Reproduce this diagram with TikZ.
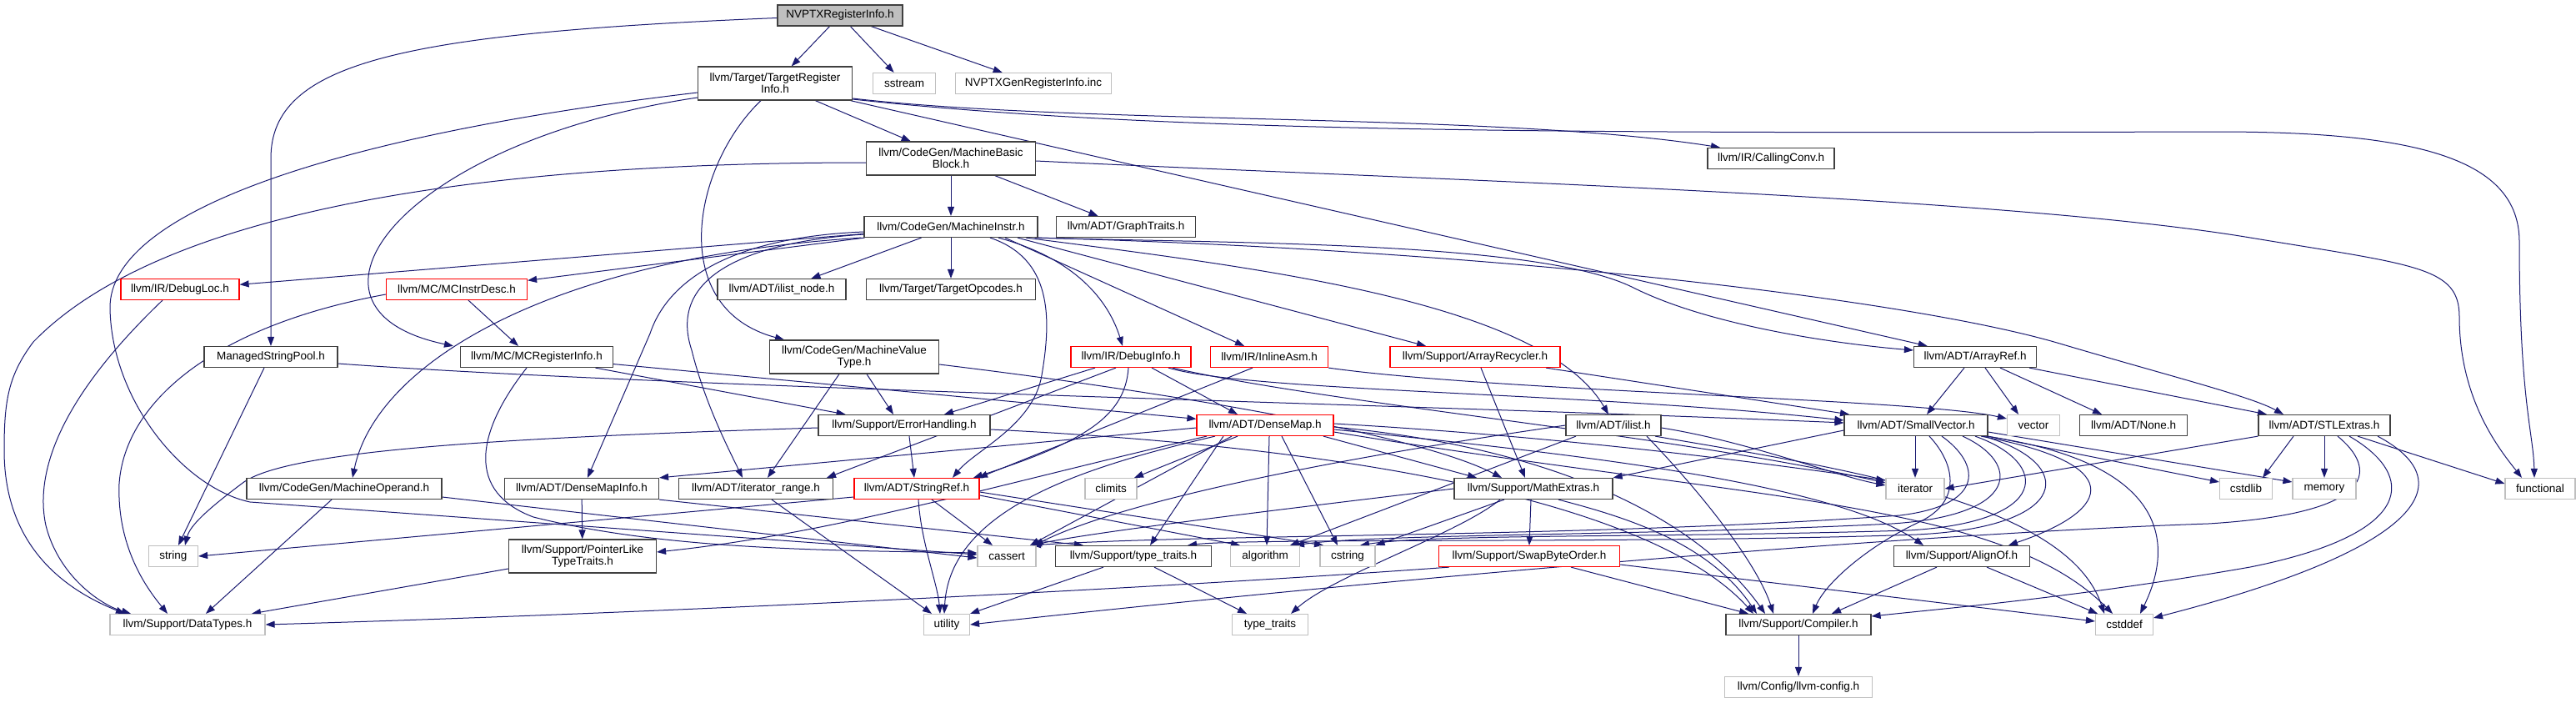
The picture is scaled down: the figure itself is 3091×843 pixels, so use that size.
\documentclass[tikz,border=0pt]{standalone}
\usepackage{fontspec}
\setmainfont{Liberation Sans}
\usetikzlibrary{arrows.meta}
\definecolor{edgec}{HTML}{191970}
\definecolor{boxgray}{HTML}{BFBFBF}
\definecolor{boxdark}{HTML}{404040}
\pgfdeclarelayer{bg}
\pgfsetlayers{bg,main}
\tikzset{
  base/.style={rectangle, inner sep=0pt, font=\fontsize{13.5}{14}\selectfont, align=center, line width=1.2pt, minimum height=25pt, fill=white},
  nb/.style={base, draw=boxdark},
  ng/.style={base, draw=boxgray},
  nr/.style={base, draw=red},
  nm/.style={base, draw=boxdark, fill=boxgray},
  tall/.style={minimum height=40pt},
  e/.style={draw=edgec, line width=1pt, -{Triangle[length=11pt,width=8pt]}},
}
\begin{document}
\begin{tikzpicture}[x=1pt,y=-1pt]
\useasboundingbox (0,0) rectangle (3091,843);
% nodes
\node[nm, minimum width=150pt] (nvptx) at (1008,18.5) {NVPTXRegisterInfo.h};
\node[nb, tall, minimum width=185pt] (tri) at (930,100) {llvm/Target/TargetRegister\\Info.h};
\node[ng, minimum width=75pt] (sstream) at (1085,100) {sstream};
\node[ng, minimum width=187pt] (geninc) at (1240,100) {NVPTXGenRegisterInfo.inc};
\node[nb, tall, minimum width=203pt] (mbb) at (1141,190) {llvm/CodeGen/MachineBasic\\Block.h};
\node[nb, minimum width=152pt] (callconv) at (2125,190) {llvm/IR/CallingConv.h};
\node[nb, minimum width=208pt] (mi) at (1141,272) {llvm/CodeGen/MachineInstr.h};
\node[nb, minimum width=167pt] (graph) at (1351,272) {llvm/ADT/GraphTraits.h};
\node[nr, minimum width=142pt] (debugloc) at (216,347) {llvm/IR/DebugLoc.h};
\node[nr, minimum width=169pt] (mcid) at (548,347) {llvm/MC/MCInstrDesc.h};
\node[nb, minimum width=154pt] (ilnode) at (938,347) {llvm/ADT/ilist\_node.h};
\node[nb, minimum width=203pt] (tgtop) at (1141,347) {llvm/Target/TargetOpcodes.h};
\node[nb, minimum width=160pt] (msp) at (325,428) {ManagedStringPool.h};
\node[nb, minimum width=183pt] (mcri) at (644,428) {llvm/MC/MCRegisterInfo.h};
\node[nb, tall, minimum width=203pt] (mvt) at (1025,428) {llvm/CodeGen/MachineValue\\Type.h};
\node[nr, minimum width=144pt] (dinfo) at (1357,428) {llvm/IR/DebugInfo.h};
\node[nr, minimum width=141pt] (iasm) at (1523,428) {llvm/IR/InlineAsm.h};
\node[nr, minimum width=204pt] (arec) at (1770,428) {llvm/Support/ArrayRecycler.h};
\node[nb, minimum width=147pt] (aref) at (2370,428) {llvm/ADT/ArrayRef.h};
\node[nb, minimum width=206pt] (errh) at (1085,510) {llvm/Support/ErrorHandling.h};
\node[nr, minimum width=164pt] (dmap) at (1518,510) {llvm/ADT/DenseMap.h};
\node[nb, minimum width=114pt] (ilist) at (1936,510) {llvm/ADT/ilist.h};
\node[nb, minimum width=172pt] (svec) at (2299,510) {llvm/ADT/SmallVector.h};
\node[ng, minimum width=63pt] (vector) at (2440,510) {vector};
\node[nb, minimum width=129pt] (none) at (2560,510) {llvm/ADT/None.h};
\node[nb, minimum width=158pt] (stl) at (2789,510) {llvm/ADT/STLExtras.h};
\node[nb, minimum width=234pt] (mop) at (413,586) {llvm/CodeGen/MachineOperand.h};
\node[nb, minimum width=185pt] (dmi) at (698,586) {llvm/ADT/DenseMapInfo.h};
\node[nb, minimum width=185pt] (itr) at (907,586) {llvm/ADT/iterator\_range.h};
\node[nr, minimum width=150pt] (sref) at (1100,586) {llvm/ADT/StringRef.h};
\node[ng, minimum width=62pt] (climits) at (1333,586) {climits};
\node[nb, minimum width=190pt] (mext) at (1840,586) {llvm/Support/MathExtras.h};
\node[ng, minimum width=70pt] (iter) at (2298,586) {iterator};
\node[ng, minimum width=63pt] (cstdlib) at (2695,586) {cstdlib};
\node[ng, minimum width=76pt] (memory) at (2789,586) {memory};
\node[ng, minimum width=84pt] (functional) at (3048,586) {functional};
\node[ng, minimum width=59pt] (string) at (208,667) {string};
\node[nb, tall, minimum width=177pt] (pltt) at (699,667) {llvm/Support/PointerLike\\TypeTraits.h};
\node[ng, minimum width=70pt] (cassert) at (1208,667) {cassert};
\node[nb, minimum width=187pt] (ttraitsh) at (1360,667) {llvm/Support/type\_traits.h};
\node[ng, minimum width=83pt] (algorithm) at (1518,667) {algorithm};
\node[ng, minimum width=66pt] (cstring) at (1617,667) {cstring};
\node[nr, minimum width=217pt] (sbo) at (1835,667) {llvm/Support/SwapByteOrder.h};
\node[nb, minimum width=163pt] (alignof) at (2354,667) {llvm/Support/AlignOf.h};
\node[ng, minimum width=186pt] (datatypes) at (225,749) {llvm/Support/DataTypes.h};
\node[ng, minimum width=55pt] (utility) at (1136,749) {utility};
\node[ng, minimum width=91pt] (ttraits) at (1524,749) {type\_traits};
\node[nb, minimum width=174pt] (compiler) at (2158,749) {llvm/Support/Compiler.h};
\node[ng, minimum width=69pt] (cstddef) at (2549,749) {cstddef};
\node[ng, minimum width=177pt] (llvmconfig) at (2158,824) {llvm/Config/llvm-config.h};

\begin{pgfonlayer}{bg}
\fill[white] (0,0) rectangle (3091,843);
% NVPTXRegisterInfo.h
\draw[e] (nvptx) -- (tri);
\draw[e] (nvptx) -- (sstream);
\draw[e] (nvptx) -- (geninc);
\draw[e] ([yshift=-3pt]nvptx.west) .. controls (480,40) and (325,75) .. (325,190) -- (msp.north);
% TargetRegisterInfo.h
\draw[e] (tri) -- (mbb);
\draw[e] ([xshift=-17pt]tri.south) .. controls (830,200) and (800,370) .. ([xshift=-84pt]mvt.north);
\draw[e] ([yshift=-17pt]tri.west) .. controls (480,170) and (330,370) .. ([xshift=-100pt]mcri.north);
\draw[e] ([yshift=-11pt]tri.west) .. controls (420,160) and (130,250) .. (132,370) .. controls (134,480) and (220,585) .. (300,602) -- ([yshift=2pt]cassert.west);
\draw[e] (tri) -- (aref);
\draw[e] ([yshift=-18pt]tri.east) .. controls (1300,150) and (1800,135) .. ([xshift=-61pt]callconv.north);
\draw[e] ([yshift=-19pt]tri.east) .. controls (1400,160) and (1900,160) .. (2660,158) .. controls (2900,158) and (3023,190) .. (3023,290) .. controls (3023,480) and (3040,520) .. ([xshift=-7pt]functional.north);
% MachineBasicBlock.h
\draw[e] (mbb) -- (mi);
\draw[e] (mbb) -- (graph);
\draw[e] ([yshift=-5pt]mbb.west) .. controls (700,195) and (220,225) .. (40,410) .. controls (10,450) and (5,480) .. (5,540) .. controls (5,640) and (60,700) .. ([xshift=-75pt]datatypes.north);
\draw[e] ([yshift=-3pt]mbb.east) .. controls (1700,215) and (2400,235) .. (2700,285) .. controls (2900,318) and (2951,320) .. (2951,380) .. controls (2951,480) and (3000,540) .. ([xshift=-22pt]functional.north);
% MachineInstr.h
\draw[e] (mi) -- (debugloc);
\draw[e] (mi) -- (mcid);
\draw[e] ([xshift=-3pt]mi.south west) .. controls (650,310) and (450,440) .. ([xshift=10pt]mop.north);
\draw[e] ([yshift=-6pt]mi.west) .. controls (870,285) and (800,340) .. (780,400) -- ([xshift=7pt]dmi.north);
\draw[e] ([yshift=-9pt]mi.west) .. controls (900,290) and (800,330) .. (830,420) .. controls (845,480) and (870,530) .. ([xshift=-16pt]itr.north);
\draw[e] (mi) -- (ilnode);
\draw[e] (mi) -- (tgtop);
\draw[e] ([xshift=47pt]mi.south) .. controls (1262,310) and (1262,380) .. (1250,450) .. controls (1240,510) and (1170,540) .. ([xshift=43pt]sref.north);
\draw[e] ([xshift=57pt]mi.south) .. controls (1290,310) and (1330,360) .. ([xshift=-10pt]dinfo.north);
\draw[e] ([xshift=65pt]mi.south) -- ([xshift=-30pt]iasm.north);
\draw[e] ([xshift=80pt]mi.south) -- ([xshift=-59pt]arec.north);
\draw[e] ([xshift=90pt]mi.south) .. controls (1500,320) and (1850,360) .. ([xshift=-6pt]ilist.north);
\draw[e] ([xshift=-4pt]mi.south east) .. controls (1500,292) and (1850,290) .. (1960,345) .. controls (2050,390) and (2200,412) .. ([yshift=8pt]aref.west);
\draw[e] ([xshift=-1pt]mi.south east) .. controls (1800,300) and (2300,360) .. (2475,413) .. controls (2600,450) and (2700,475) .. ([xshift=-49pt]stl.north);
% DebugLoc, MCInstrDesc
\draw[e] ([xshift=-21pt]debugloc.south) .. controls (80,470) and (40,560) .. (55,630) .. controls (70,690) and (120,725) .. ([xshift=-68pt]datatypes.north);
\draw[e] ([xshift=14pt]mcid.south) -- ([xshift=-22pt]mcri.north);
\draw[e] ([yshift=-6pt]mcid.west) .. controls (260,390) and (150,480) .. (143,580) .. controls (140,660) and (180,710) .. ([xshift=-24pt]datatypes.north);
% ManagedStringPool
\draw[e] ([xshift=-8pt]msp.south) -- ([xshift=6pt]string.north);
\draw[e] ([yshift=-8pt]msp.east) .. controls (800,465) and (1700,485) .. ([yshift=3pt]svec.west);
% MCRegisterInfo
\draw[e] (mcri) -- (dmap);
\draw[e] (mcri) -- (errh);
\draw[e] ([xshift=-12pt]mcri.south) .. controls (570,520) and (560,590) .. (640,620) .. controls (800,660) and (1000,660) .. ([yshift=4pt]cassert.west);
% MachineValueType
\draw[e] ([xshift=15pt]mvt.south) -- ([xshift=-13pt]errh.north);
\draw[e] ([xshift=-18pt]mvt.south) -- ([xshift=14pt]itr.north);
\draw[e] ([yshift=-9pt]mvt.east) .. controls (1400,470) and (1700,520) .. ([xshift=-38pt]mext.north);
% DebugInfo
\draw[e] ([xshift=-43pt]dinfo.south) -- ([xshift=48pt]errh.north);
\draw[e] ([xshift=-18pt]dinfo.south) -- ([xshift=85pt]itr.north);
\draw[e] ([xshift=-3pt]dinfo.south) .. controls (1350,500) and (1300,530) .. ([xshift=68pt]sref.north);
\draw[e] ([xshift=25pt]dinfo.south) -- ([xshift=-33pt]dmap.north);
\draw[e] ([xshift=45pt]dinfo.south) .. controls (1500,470) and (1900,470) .. ([yshift=6pt]svec.west);
\draw[e] ([xshift=50pt]dinfo.south) .. controls (1600,485) and (2000,520) .. ([yshift=7pt]iter.west);
% InlineAsm
\draw[e] ([xshift=-20pt]iasm.south) -- ([xshift=74pt]sref.north);
\draw[e] (iasm.south east) .. controls (1800,470) and (2300,478) .. ([yshift=8pt]vector.west);
% ArrayRecycler
\draw[e] ([xshift=7pt]arec.south) -- ([xshift=-10pt]mext.north);
\draw[e] ([xshift=85pt]arec.south) -- ([xshift=-80pt]svec.north);
% ArrayRef
\draw[e] ([xshift=-13pt]aref.south) -- ([xshift=13pt]svec.north);
\draw[e] ([xshift=12pt]aref.south) -- ([xshift=-18pt]vector.north);
\draw[e] ([xshift=30pt]aref.south) -- ([xshift=-38pt]none.north);
\draw[e] ([xshift=65pt]aref.south) -- ([xshift=-69pt]stl.north);
% ErrorHandling
\draw[e] ([xshift=6pt]errh.south) -- ([xshift=-3pt]sref.north);
\draw[e] ([yshift=-3pt]errh.west) .. controls (600,525) and (340,540) .. (290,580) .. controls (250,610) and (228,630) .. ([xshift=14pt]string.north);
\draw[e] ([yshift=-5pt]errh.east) .. controls (1700,540) and (2000,620) .. ([xshift=-54pt]compiler.north);
% DenseMap
\draw[e] ([yshift=-3pt]dmap.west) -- (dmi.north east);
\draw[e] ([xshift=-70pt]dmap.south) .. controls (1200,580) and (1000,640) .. ([yshift=5pt]pltt.east);
\draw[e] ([xshift=-33pt]dmap.south) -- ([xshift=28pt]climits.north);
\draw[e] ([xshift=-50pt]dmap.south) -- ([xshift=20pt]ttraitsh.north);
\draw[e] ([xshift=-40pt]dmap.south) -- ([xshift=28pt]cassert.north);
\draw[e] ([xshift=5pt]dmap.south) -- ([xshift=2pt]algorithm.north);
\draw[e] ([xshift=-60pt]dmap.south) .. controls (1300,560) and (1140,610) .. ([xshift=-3pt]utility.north);
\draw[e] ([xshift=20pt]dmap.south) -- ([xshift=-12pt]cstring.north);
\draw[e] ([xshift=70pt]dmap.south) -- ([xshift=-68pt]mext.north);
\draw[e] ([yshift=2pt]dmap.east) .. controls (1900,525) and (2150,560) .. ([yshift=10pt]iter.west);
\draw[e] ([yshift=-2pt]dmap.east) .. controls (1900,540) and (2050,640) .. ([xshift=-40pt]compiler.north);
\draw[e] ([yshift=-5pt]dmap.east) .. controls (1900,545) and (2200,580) .. ([xshift=-46pt]alignof.north);
\draw[e] ([yshift=-8pt]dmap.east) .. controls (2100,600) and (2400,600) .. ([xshift=-14pt]cstddef.north);
% ilist
\draw[e] (ilist.west) .. controls (1600,550) and (1350,600) .. ([xshift=33pt]cassert.north);
\draw[e] ([xshift=-45pt]ilist.south) -- ([xshift=30pt]algorithm.north);
\draw[e] ([yshift=-3pt]ilist.east) .. controls (2100,530) and (2200,570) .. ([yshift=4pt]iter.west);
\draw[e] ([xshift=40pt]ilist.south) .. controls (2050,600) and (2110,680) .. ([xshift=-30pt]compiler.north);
\draw[e] ([xshift=50pt]ilist.south) .. controls (2200,560) and (2480,600) .. ([xshift=-24pt]cstddef.north);
% SmallVector
\draw[e] ([xshift=-1pt]svec.south) -- (iter.north);
\draw[e] ([yshift=-6pt]svec.west) -- (mext.north east);
\draw[e] ([xshift=16pt]svec.south) .. controls (2345,555) and (2355,600) .. (2305,625) .. controls (2240,655) and (2190,700) .. ([xshift=17pt]compiler.north);
\draw[e] ([xshift=31pt]svec.south) .. controls (2375,555) and (2385,605) .. (2280,618) .. controls (1900,645) and (1450,640) .. ([xshift=30pt]cassert.north);
\draw[e] ([xshift=56pt]svec.south) .. controls (2425,555) and (2425,618) .. (2270,628) .. controls (2000,642) and (1650,640) .. ([xshift=36pt]algorithm.north);
\draw[e] ([xshift=71pt]svec.south) .. controls (2460,555) and (2462,626) .. (2290,636) .. controls (2000,645) and (1720,640) .. ([xshift=15pt]cstring.north);
\draw[e] ([xshift=81pt]svec.south) .. controls (2492,555) and (2488,632) .. (2300,641) .. controls (2000,652) and (1500,645) .. ([xshift=65pt]ttraitsh.north);
\draw[e] ([xshift=78pt]svec.south) .. controls (2550,555) and (2540,610) .. ([xshift=56pt]alignof.north);
\draw[e] ([xshift=84pt]svec.south) .. controls (2600,555) and (2610,650) .. ([xshift=19pt]cstddef.north);
\draw[e] (svec.south east) -- ([yshift=8pt]cstdlib.west);
\draw[e] ([yshift=-8pt]svec.east) -- ([yshift=8pt]memory.west);
% STLExtras
\draw[e] (stl.south west) -- (iter.east);
\draw[e] ([xshift=-37pt]stl.south) -- ([xshift=20pt]cstdlib.north);
\draw[e] (stl) -- (memory);
\draw[e] ([xshift=40pt]stl.south) -- ([yshift=6pt]functional.west);
\draw[e] ([xshift=16pt]stl.south) .. controls (2850,560) and (2860,615) .. (2650,628) .. controls (2300,640) and (1700,690) .. (utility.east);
\draw[e] ([xshift=30pt]stl.south) .. controls (2900,570) and (2900,640) .. (2700,680) .. controls (2500,715) and (2350,728) .. ([yshift=10pt]compiler.east);
\draw[e] ([xshift=64pt]stl.south) .. controls (2960,580) and (2900,660) .. ([yshift=8pt]cstddef.east);
% MathExtras
\draw[e] (mext.west) .. controls (1500,615) and (1300,640) .. ([xshift=31pt]cassert.north);
\draw[e] ([xshift=-35pt]mext.south) -- (cstring.north east);
\draw[e] ([xshift=-40pt]mext.south) .. controls (1750,640) and (1600,690) .. ([xshift=25pt]ttraits.north);
\draw[e] ([xshift=-3pt]mext.south) -- (sbo.north);
\draw[e] ([xshift=30pt]mext.south) .. controls (1950,620) and (2050,650) .. ([xshift=-50pt]compiler.north);
% SwapByteOrder
\draw[e] ([xshift=50pt]sbo.south) -- ([xshift=-60pt]compiler.north);
\draw[e] ([xshift=13pt]sbo.south west) .. controls (1400,705) and (800,735) .. (datatypes.east);
\draw[e] ([yshift=-10pt]sbo.east) -- ([yshift=4pt]cstddef.west);
% AlignOf
\draw[e] ([xshift=-30pt]alignof.south) -- ([xshift=40pt]compiler.north);
\draw[e] ([xshift=30pt]alignof.south) -- ([xshift=-32pt]cstddef.north);
% type_traits.h
\draw[e] ([xshift=-36pt]ttraitsh.south) -- (utility.north east);
\draw[e] ([xshift=25pt]ttraitsh.south) -- ([xshift=-28pt]ttraits.north);
% DenseMapInfo
\draw[e] (dmi) -- (pltt);
\draw[e] (dmi.south east) -- ([xshift=-60pt]ttraitsh.north);
% MachineOperand
\draw[e] ([xshift=-15pt]mop.south) -- ([xshift=22pt]datatypes.north);
\draw[e] ([yshift=-10pt]mop.east) -- ([yshift=-2pt]cassert.west);
% PointerLikeTypeTraits
\draw[e] ([yshift=-15pt]pltt.west) -- ([xshift=77pt]datatypes.north);
% iterator_range
\draw[e] ([xshift=19pt]itr.south) -- ([xshift=-18pt]utility.north);
% StringRef
\draw[e] ([xshift=2pt]sref.south) .. controls (1105,650) and (1125,700) .. ([xshift=-8pt]utility.north);
\draw[e] ([xshift=18pt]sref.south) -- ([xshift=-17pt]cassert.north);
\draw[e] ([yshift=-10pt]sref.west) -- (string.east);
\draw[e] ([yshift=-8pt]sref.east) -- ([xshift=-30pt]algorithm.north);
\draw[e] ([yshift=-4pt]sref.east) -- ([xshift=-29pt]cstring.north);
% Compiler
\draw[e] (compiler) -- (llvmconfig);
\end{pgfonlayer}
\end{tikzpicture}
\end{document}
